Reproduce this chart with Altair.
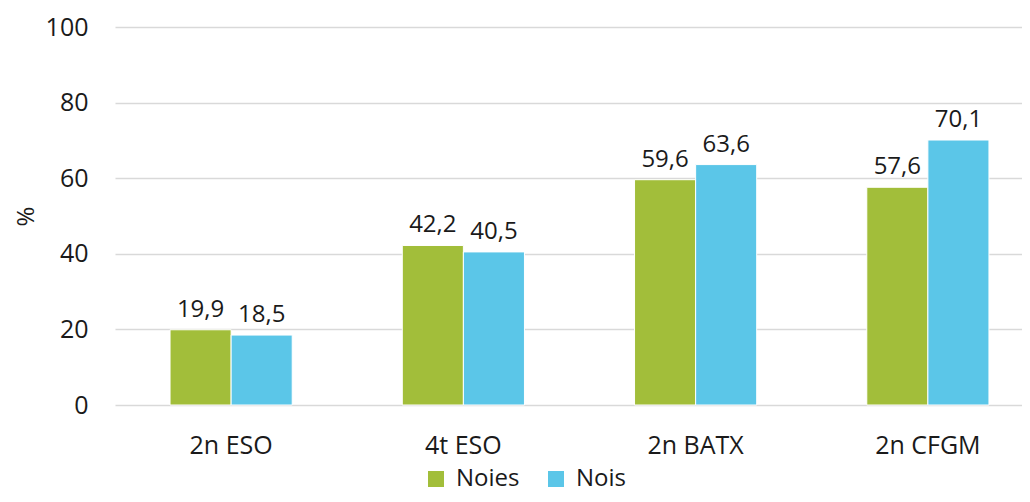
import altair as alt
import pandas as pd

categories = ["2n ESO", "4t ESO", "2n BATX", "2n CFGM"]
noies = [19.9, 42.2, 59.6, 57.6]
nois = [18.5, 40.5, 63.6, 70.1]
series = ["Noies", "Nois"]
colors = ["#A2BE3A", "#5BC6E8"]

rows = []
for c, a, b in zip(categories, noies, nois):
    rows.append({"cat": c, "serie": "Noies", "value": a})
    rows.append({"cat": c, "serie": "Nois", "value": b})
df = pd.DataFrame(rows)

FONT = "Open Sans"
TXT = "#1a1a1a"

x = alt.X("cat:N", sort=categories, title=None,
          scale=alt.Scale(paddingInner=0.474, paddingOuter=0.237, range=[0, 929]),
          axis=alt.Axis(labelAngle=0, labelFontSize=25, labelFont=FONT, labelColor=TXT,
                        domain=False, ticks=False, labelPadding=28))
xo = alt.XOffset("serie:N", sort=series, scale=alt.Scale(paddingInner=0.0, paddingOuter=0))
y = alt.Y("value:Q", title="%", scale=alt.Scale(domain=[0, 100]),
          axis=alt.Axis(values=[0, 20, 40, 60, 80, 100], labelFontSize=25, labelFont=FONT,
                        labelColor=TXT, titleFont=FONT, titleFontSize=24,
                        titleFontWeight="normal", titleColor=TXT, titlePadding=7,
                        domain=False, ticks=False, labelPadding=27,
                        gridColor="#d9d9d9", gridWidth=1.5))
color = alt.Color("serie:N", sort=series, scale=alt.Scale(domain=series, range=colors),
                  legend=alt.Legend(title=None, orient="none", legendX=309, legendY=440,
                                    direction="horizontal", symbolType="square", symbolSize=256,
                                    symbolStrokeWidth=0, labelFontSize=24, labelFont=FONT,
                                    labelColor=TXT, labelOffset=8, columnPadding=24))

bars = alt.Chart(df).mark_bar(stroke="white", strokeWidth=1).encode(x=x, xOffset=xo, y=y, color=color)
labels = alt.Chart(df).transform_calculate(
    lab="replace(format(datum.value, '.1f'), '.', ',')"
).mark_text(dy=-8, baseline="bottom", fontSize=24, font=FONT, color=TXT).encode(
    x=x, xOffset=xo, y=y, text="lab:N")

chart = alt.layer(bars, labels).properties(
    width=907, height=378,
    autosize=alt.AutoSizeParams(type="none"),
    padding={"left": 107, "top": 19, "right": 0, "bottom": 89},
).configure_view(stroke=None)

chart.save("out.html", embed_options={"renderer": "svg", "actions": False})
